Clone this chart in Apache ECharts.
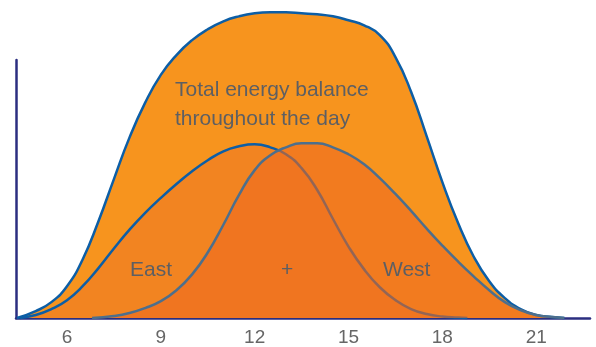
<!DOCTYPE html>
<html>
<head>
<meta charset="utf-8">
<script src="https://cdn.jsdelivr.net/npm/echarts@6/dist/echarts.min.js"></script>
<style>
  html, body { margin: 0; padding: 0; background: #fff; }
  #chart { width: 596px; height: 347px; }
</style>
</head>
<body>
<div id="chart"></div>
<script>
// hour of day, relative output (arbitrary units above the baseline)
const totalCurve = [
  [4.4, 0], [5.0, 7], [5.5, 16], [6.0, 32], [6.5, 59], [7.0, 97], [7.5, 140],
  [8.0, 182], [8.5, 217], [9.0, 245], [9.5, 265], [10.0, 280], [10.5, 291],
  [11.0, 299], [11.5, 304], [12.0, 307], [12.5, 308], [13.0, 308], [13.5, 307],
  [14.0, 306], [14.5, 304], [15.0, 300], [15.5, 295], [16.0, 285], [16.5, 263],
  [17.0, 228], [17.5, 183], [18.0, 137], [18.5, 96], [19.0, 62], [19.5, 37],
  [20.0, 20], [20.5, 9], [21.0, 3], [21.5, 1], [21.9, 0]
];
const eastCurve = [
  [4.5, 0], [5.0, 3], [5.5, 9], [6.0, 18], [6.5, 32], [7.0, 50], [7.5, 70],
  [8.0, 89], [8.5, 106], [9.0, 121], [9.5, 135], [10.0, 148], [10.5, 159],
  [11.0, 168], [11.5, 173], [12.0, 175], [12.5, 172], [13.0, 165], [13.5, 151],
  [14.0, 129], [14.5, 100], [15.0, 72], [15.5, 49], [16.0, 31], [16.5, 18],
  [17.0, 9], [17.5, 4], [18.0, 1.5], [18.5, 0.5], [18.8, 0]
];
const westCurve = [
  [6.8, 0], [7.5, 2], [8.0, 5], [8.5, 10], [9.0, 17], [9.5, 28], [10.0, 44],
  [10.5, 66], [11.0, 94], [11.5, 124], [12.0, 149], [12.5, 164], [13.0, 172],
  [13.5, 176], [14.0, 176], [14.5, 172], [15.0, 165], [15.5, 155], [16.0, 141],
  [16.5, 125], [17.0, 108], [17.5, 90], [18.0, 73], [18.5, 57], [19.0, 42],
  [19.5, 28], [20.0, 16], [20.5, 8], [21.0, 3], [21.5, 1], [21.9, 0]
];
const tickHours = [6, 9, 12, 15, 18, 21];

const textColor = '#5d5f63';
const font = "'Liberation Sans', Arial, sans-serif";

const chart = echarts.init(document.getElementById('chart'));

function curve(name, data, fill, stroke, z) {
  return {
    name: name,
    type: 'line',
    data: data,
    smooth: 0.5,
    symbol: 'none',
    clip: false,
    z: z,
    lineStyle: { color: stroke, width: 2.5 },
    areaStyle: { color: fill, opacity: 1 }
  };
}

chart.setOption({
  animation: false,
  grid: { left: 16, right: 6, top: 60, bottom: 27 },
  xAxis: {
    type: 'value',
    min: 4.37,
    max: 22.72,
    axisLine: { lineStyle: { color: '#2b2e80', width: 2.5 } },
    axisTick: { show: false },
    splitLine: { show: false },
    axisLabel: {
      customValues: tickHours,
      color: '#666666',
      fontSize: 19,
      fontFamily: font,
      margin: 10
    }
  },
  yAxis: {
    type: 'value',
    min: 0,
    max: 260,
    axisLine: { show: true, lineStyle: { color: '#2b2e80', width: 2.5 } },
    axisTick: { show: false },
    axisLabel: { show: false },
    splitLine: { show: false }
  },
  series: [
    curve('Total', totalCurve, '#f7941e', '#0c5ea6', 1),
    curve('East', eastCurve, '#f28421', '#0c5ea6', 2),
    curve('West', westCurve, 'rgba(238,106,32,0.6)', '#4d6f8c', 3)
  ],
  graphic: [
    {
      type: 'text', left: 175, top: 76, z: 10,
      style: {
        text: 'Total energy balance\nthroughout the day',
        fill: textColor, font: '21px ' + font, lineHeight: 29
      }
    },
    { type: 'text', left: 130, top: 260, z: 10,
      style: { text: 'East', fill: textColor, font: '21px ' + font } },
    { type: 'text', left: 281, top: 260, z: 10,
      style: { text: '+', fill: textColor, font: '21px ' + font } },
    { type: 'text', left: 383, top: 260, z: 10,
      style: { text: 'West', fill: textColor, font: '21px ' + font } }
  ]
});
</script>
</body>
</html>
